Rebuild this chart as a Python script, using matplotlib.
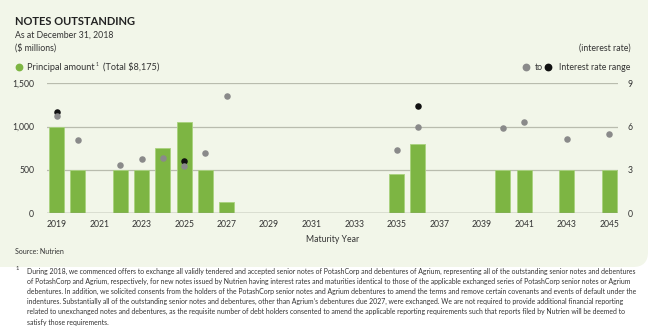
import matplotlib.pyplot as plt
from matplotlib.path import Path
from matplotlib.patches import PathPatch

plt.rcParams['font.family'] = ['Lato', 'DejaVu Sans']

# data
years = [2019, 2020, 2022, 2023, 2024, 2025, 2026, 2027,
         2035, 2036, 2040, 2041, 2043, 2045]
principal = [1000, 500, 500, 500, 750, 1050, 500, 125,
             450, 800, 500, 500, 500, 500]

rate_years = [2019, 2020, 2022, 2023, 2024, 2025, 2026, 2027,
              2035, 2036, 2040, 2041, 2043, 2045]
rate_low = [6.75, 5.1, 3.35, 3.75, 3.85, 3.25, 4.2, 8.1,
            4.35, 6.0, 5.88, 6.35, 5.15, 5.5]
high_years = [2019, 2025, 2036]
rate_high = [7.0, 3.6, 7.4]

xticks = list(range(2019, 2046, 2))
left_ticks = [0, 500, 1000, 1500]
right_ticks = [0, 3, 6, 9]

W, H = 648, 330
bg = '#f2f6e9'
green = '#7db543'
grey = '#8a8a8a'
grid = '#b9bcae'
text = '#333333'

fig = plt.figure(figsize=(W / 100, H / 100), dpi=100)
fig.patch.set_facecolor('white')

# panel with rounded bottom-right corner
r = 15
bot = 267
pts = [(0, H), (W, H), (W, H - bot + r), (W, H - bot), (W - r, H - bot),
       (0, H - bot), (0, H)]
codes = [Path.MOVETO, Path.LINETO, Path.LINETO, Path.CURVE3, Path.CURVE3,
         Path.LINETO, Path.CLOSEPOLY]
pts = [(x / W, y / H) for x, y in pts]
fig.patches.append(PathPatch(Path(pts, codes), transform=fig.transFigure,
                             facecolor=bg, edgecolor='none', zorder=-10))

ax = fig.add_axes([46.7 / W, 1 - 213.3 / H, (618 - 46.7) / W, 130 / H])
ax.set_facecolor('none')
ax.bar(years, principal, width=0.7, color=green, edgecolor='#a9d27e',
       linewidth=0.6, zorder=3)
ax.set_xlim(2018.53, 2045.42)
ax.set_ylim(0, 1500)
ax.set_yticks(left_ticks)
ax.set_yticklabels([f'{v:,}' for v in left_ticks])
ax.set_xticks(xticks)
ax.tick_params(length=0, labelsize=6.2, colors=text)
ax.tick_params(axis='x', pad=5)
ax.tick_params(axis='y', pad=9)
for s in ax.spines.values():
    s.set_visible(False)
ax.grid(axis='y', color=grid, linewidth=0.9, zorder=0)
ax.axhline(0, color='#9a9d90', linewidth=1.0, zorder=4)
ax.set_xlabel('Maturity Year', fontsize=6.2, color=text, labelpad=4)

ax2 = ax.twinx()
ax2.set_ylim(0, 9)
ax2.set_yticks(right_ticks)
ax2.tick_params(length=0, labelsize=6.2, colors=text, pad=7)
for s in ax2.spines.values():
    s.set_visible(False)
ax2.scatter(high_years, rate_high, s=22, color='#111111', zorder=5,
            linewidths=0)
ax2.scatter(rate_years, rate_low, s=22, color=grey, zorder=6, linewidths=0)

# header texts
fig.text(15 / W, 1 - 25 / H, 'NOTES OUTSTANDING', fontsize=8.0,
         fontweight='bold', color='#222222', va='baseline')
fig.text(15 / W, 1 - 35 / H, 'As at December 31, 2018', fontsize=6.3,
         color=text, va='center')
fig.text(15 / W, 1 - 48 / H, '($ millions)', fontsize=6.3, color=text,
         va='center')
fig.text(631 / W, 1 - 48 / H, '(interest rate)', fontsize=6.3, color=text,
         va='center', ha='right')

# legends
fig.add_artist(plt.Line2D([19 / W], [1 - 67 / H], marker='o', markersize=4.6,
                          color=green, linestyle='none',
                          transform=fig.transFigure))
renderer = fig.canvas.get_renderer()
t1 = fig.text(27 / W, 1 - 67 / H, 'Principal amount', fontsize=6.6,
              color=text, va='center')
x1 = t1.get_window_extent(renderer).x1
t2 = fig.text(x1 / W + 0.8 / W, 1 - 64.5 / H, '1', fontsize=3.6, color=text,
              va='center')
x2 = t2.get_window_extent(renderer).x1
fig.text(x2 / W + 5 / W, 1 - 67 / H, '(Total $8,175)', fontsize=6.6,
         color=text, va='center')
fig.add_artist(plt.Line2D([526 / W], [1 - 67 / H], marker='o', markersize=4.6,
                          color=grey, linestyle='none',
                          transform=fig.transFigure))
fig.text(534.5 / W, 1 - 67 / H, 'to', fontsize=6.3, color=text, va='center')
fig.add_artist(plt.Line2D([548 / W], [1 - 67 / H], marker='o', markersize=4.6,
                          color='#111111', linestyle='none',
                          transform=fig.transFigure))
fig.text(630 / W, 1 - 67 / H, 'Interest rate range', fontsize=6.3,
         color=text, va='center', ha='right')

fig.text(15 / W, 1 - 252 / H, 'Source: Nutrien', fontsize=5, color=text,
         va='center')

# footnote
notes = [
    "During 2018, we commenced offers to exchange all validly tendered and accepted senior notes of PotashCorp and debentures of Agrium, representing all of the outstanding senior notes and debentures",
    "of PotashCorp and Agrium, respectively, for new notes issued by Nutrien having interest rates and maturities identical to those of the applicable exchanged series of PotashCorp senior notes or Agrium",
    "debentures. In addition, we solicited consents from the holders of the PotashCorp senior notes and Agrium debentures to amend the terms and remove certain covenants and events of default under the",
    "indentures. Substantially all of the outstanding senior notes and debentures, other than Agrium\u2019s debentures due 2027, were exchanged. We are not required to provide additional financial reporting",
    "related to unexchanged notes and debentures, as the requisite number of debt holders consented to amend the applicable reporting requirements such that reports filed by Nutrien will be deemed to",
    "satisfy those requirements.",
]
fig.text(16 / W, 1 - 269 / H, '1', fontsize=4.2, color=text, va='center')
for i, line in enumerate(notes):
    fig.text(27 / W, 1 - (271.5 + i * 10.1) / H, line, fontsize=4.95,
             color=text, va='center')

fig.savefig('out.png', dpi=100, facecolor=fig.get_facecolor())
